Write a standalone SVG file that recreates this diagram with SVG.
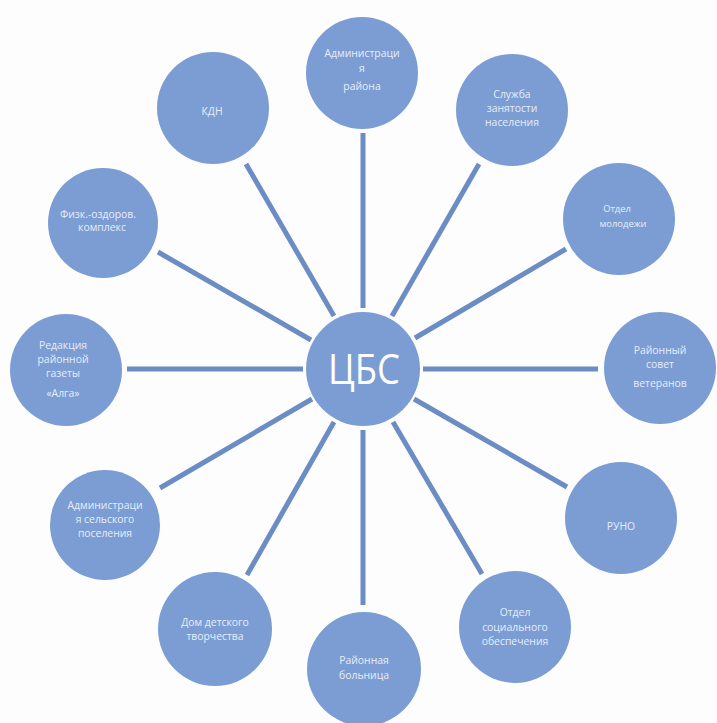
<svg xmlns="http://www.w3.org/2000/svg" width="717" height="723" viewBox="0 0 717 723">
<style>
.n{fill:#7b9dd3}
.c line{stroke:#6c8cc4;stroke-width:5}
.t{font-family:"Open Sans","Liberation Sans",sans-serif;font-size:10.4px;fill:#e6edf9;text-anchor:middle}
.m{font-size:9.4px}
.big{font-family:"Open Sans","Liberation Sans",sans-serif;font-size:42px;fill:#ffffff;text-anchor:middle}
</style>
<rect width="717" height="723" fill="#fdfdfd"/>
<g id="connectors" class="c">
<line x1="363" y1="133" x2="363" y2="308"/>
<line x1="246" y1="164" x2="334" y2="316"/>
<line x1="479" y1="164" x2="392" y2="316"/>
<line x1="158" y1="252" x2="311" y2="340"/>
<line x1="566" y1="249" x2="415" y2="338"/>
<line x1="127" y1="369" x2="303" y2="369"/>
<line x1="423" y1="369" x2="598" y2="369"/>
<line x1="160" y1="488" x2="312" y2="399"/>
<line x1="567" y1="487" x2="414" y2="399"/>
<line x1="247" y1="575" x2="334" y2="422"/>
<line x1="482" y1="574" x2="393" y2="422"/>
<line x1="363" y1="430" x2="363" y2="605"/>
</g>
<g id="cbs"><circle class="n" cx="363" cy="369" r="57"/><text class="big" x="364" y="384" textLength="72" lengthAdjust="spacingAndGlyphs">ЦБС</text></g>
<g id="adm-rayona"><circle class="n" cx="362" cy="73" r="56"/><text class="t" x="362" y="57">Администраци</text><text class="t" x="362" y="72">я</text><text class="t" x="362" y="90">района</text></g>
<g id="kdn"><circle class="n" cx="213" cy="108" r="56"/><text class="t" x="212" y="115">КДН</text></g>
<g id="sluzhba"><circle class="n" cx="512" cy="110" r="56"/><text class="t" x="512" y="98">Служба</text><text class="t" x="512" y="112">занятости</text><text class="t" x="512" y="126">населения</text></g>
<g id="fizk"><circle class="n" cx="103" cy="223" r="55"/><text class="t" x="98" y="218">Физк.-оздоров.</text><text class="t" x="102" y="231">комплекс</text></g>
<g id="molod"><circle class="n" cx="619" cy="219" r="56"/><text class="t m" x="617" y="212">Отдел</text><text class="t m" x="623" y="227">молодежи</text></g>
<g id="redak"><circle class="n" cx="66" cy="370" r="56"/><text class="t" x="63" y="349">Редакция</text><text class="t" x="63" y="363">районной</text><text class="t" x="63" y="377">газеты</text><text class="t" x="63" y="397">«Алга»</text></g>
<g id="sovet"><circle class="n" cx="660" cy="368" r="56"/><text class="t" x="660" y="354">Районный</text><text class="t" x="660" y="368">совет</text><text class="t" x="660" y="387">ветеранов</text></g>
<g id="adm-sel"><circle class="n" cx="105" cy="525" r="55"/><text class="t" x="105" y="509">Администраци</text><text class="t" x="105" y="523">я сельского</text><text class="t" x="105" y="537">поселения</text></g>
<g id="runo"><circle class="n" cx="621" cy="518" r="56"/><text class="t" x="621" y="530">РУНО</text></g>
<g id="dom"><circle class="n" cx="215" cy="629" r="57"/><text class="t" x="215" y="626">Дом детского</text><text class="t" x="215" y="640">творчества</text></g>
<g id="soc"><circle class="n" cx="515" cy="627" r="56"/><text class="t" x="515" y="616">Отдел</text><text class="t" x="515" y="631">социального</text><text class="t" x="515" y="645">обеспечения</text></g>
<g id="boln"><circle class="n" cx="364" cy="669" r="57"/><text class="t" x="364" y="664">Районная</text><text class="t" x="364" y="679">больница</text></g>
</svg>
